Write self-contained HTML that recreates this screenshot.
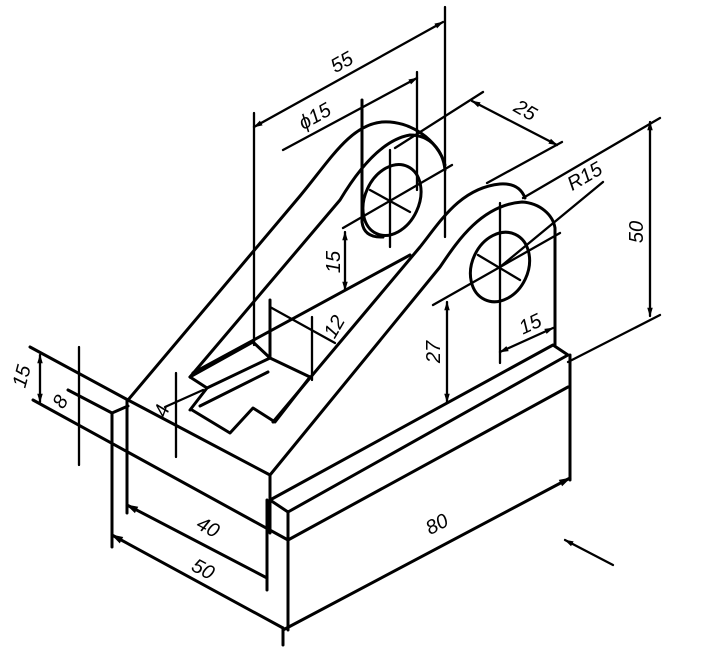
<!DOCTYPE html>
<html><head><meta charset="utf-8"><style>
html,body{margin:0;padding:0;background:#fff;}
svg{display:block;}
text{font-family:"Liberation Sans",sans-serif;font-style:italic;fill:#000;}
</style></head><body>
<svg width="727" height="665" viewBox="0 0 727 665" xmlns="http://www.w3.org/2000/svg">
<defs>
<marker id="a" viewBox="0 0 10 10" refX="9" refY="5" markerWidth="6" markerHeight="4" orient="auto-start-reverse"><path d="M0,2 L10,5 L0,8 z" fill="#000"/></marker>
</defs>
<g fill="none" stroke="#000" stroke-width="3" stroke-linecap="round" stroke-linejoin="round">
<path d="M30,347 L128,400 L270,475"/>
<path d="M33,400 L288,540"/>
<path d="M68,390 L112,413 L128,406"/>
<path d="M112,413 L112,547"/>
<path d="M127,400 L127,513"/>
<path d="M270,475 L270,533"/>
<path d="M270,500 L288,512 L568,355 L553,345 L270,500"/>
<path d="M288,540 L568,387"/>
<path d="M288,512 L288,630"/>
<path d="M283,628 L283,645"/>
<path d="M570,355 L570,480"/>
<path d="M283,630 L570,478" marker-end="url(#a)"/>
<path d="M112,535 L283,628" marker-start="url(#a)"/>
<path d="M127,505 L267,578" marker-start="url(#a)"/>
<path d="M267,500 L267,590"/>
<path d="M128,400 L300,196 C330,160 350,125 382,122 C410,120 438,140 445,165"/>
<path d="M190,377 L340,200 C355,175 380,140 410,135 C430,135 443,150 445,170"/>
<path d="M193,373 L410,255"/>
<path d="M273,422 L420,247 C440,222 460,188 500,184 C515,183 522,190 525,198"/>
<path d="M270,475 L440,267 C455,245 480,205 522,202 C540,203 553,215 555,228 L555,345"/>
<path d="M362,100 L362,222 Q364,238 383,237"/>
<ellipse cx="392" cy="200" rx="27" ry="37" transform="rotate(25 392 200)"/>
<ellipse cx="500" cy="267" rx="28" ry="36" transform="rotate(25 500 267)"/>
<path d="M190,377 L253,342 L270,358 L310,377"/>
<path d="M207,388 L270,358"/>
<path d="M190,377 L207,388 L190,410"/>
<path d="M192,410 L230,433 L253,408 L275,422 L310,377"/>
<path d="M200,406 L268,372"/>
<path d="M270,300 L270,358"/>
</g>
<g fill="none" stroke="#000" stroke-width="2.3" stroke-linecap="round">
<path d="M40,355 L40,402" marker-start="url(#a)" marker-end="url(#a)"/>
<path d="M79,347 L79,465"/>
<path d="M176,373 L176,457"/>
<path d="M165,407 L203,390"/>
<path d="M254,113 L254,345"/>
<path d="M445,7 L445,237"/>
<path d="M254,127 L443,22" marker-start="url(#a)" marker-end="url(#a)"/>
<path d="M283,150 L417,78" marker-end="url(#a)"/>
<path d="M417,72 L417,190"/>
<path d="M390,150 L390,247"/>
<path d="M343,228 L452,165"/>
<path d="M370,190 L410,212"/>
<path d="M395,148 L483,92"/>
<path d="M487,183 L562,142"/>
<path d="M472,101 L557,145" marker-start="url(#a)" marker-end="url(#a)"/>
<path d="M500,267 L603,182"/>
<path d="M523,198 L660,118"/>
<path d="M568,362 L660,315"/>
<path d="M650,122 L650,316" marker-start="url(#a)" marker-end="url(#a)"/>
<path d="M345,232 L345,290" marker-start="url(#a)" marker-end="url(#a)"/>
<path d="M270,307 L335,343"/>
<path d="M312,317 L312,380"/>
<path d="M433,305 L560,233"/>
<path d="M447,302 L447,402" marker-start="url(#a)" marker-end="url(#a)"/>
<path d="M500,203 L500,363"/>
<path d="M478,255 L520,280"/>
<path d="M500,352 L553,328" marker-start="url(#a)" marker-end="url(#a)"/>
<path d="M613,565 L565,540" marker-end="url(#a)"/>
</g>
<g font-size="20">
<text x="345" y="68" transform="rotate(-29 345 68)" text-anchor="middle">55</text>
<text x="318" y="122" transform="rotate(-29 318 122)" text-anchor="middle">ϕ15</text>
<text x="522" y="116" transform="rotate(30 522 116)" text-anchor="middle">25</text>
<text x="588" y="182" transform="rotate(-30 588 182)" text-anchor="middle">R15</text>
<text x="643" y="232" transform="rotate(-90 643 232)" text-anchor="middle">50</text>
<text x="340" y="262" transform="rotate(-90 340 262)" text-anchor="middle">15</text>
<text x="340" y="330" transform="rotate(-60 340 330)" text-anchor="middle">12</text>
<text x="440" y="352" transform="rotate(-90 440 352)" text-anchor="middle">27</text>
<text x="533" y="330" transform="rotate(-25 533 330)" text-anchor="middle">15</text>
<text x="28" y="378" transform="rotate(-75 28 378)" text-anchor="middle">15</text>
<text x="66" y="405" transform="rotate(-60 66 405)" text-anchor="middle">8</text>
<text x="168" y="413" transform="rotate(-70 168 413)" text-anchor="middle">4</text>
<text x="205" y="533" transform="rotate(28 205 533)" text-anchor="middle">40</text>
<text x="200" y="575" transform="rotate(28 200 575)" text-anchor="middle">50</text>
<text x="440" y="530" transform="rotate(-28 440 530)" text-anchor="middle">80</text>
</g>
</svg>
</body></html>
